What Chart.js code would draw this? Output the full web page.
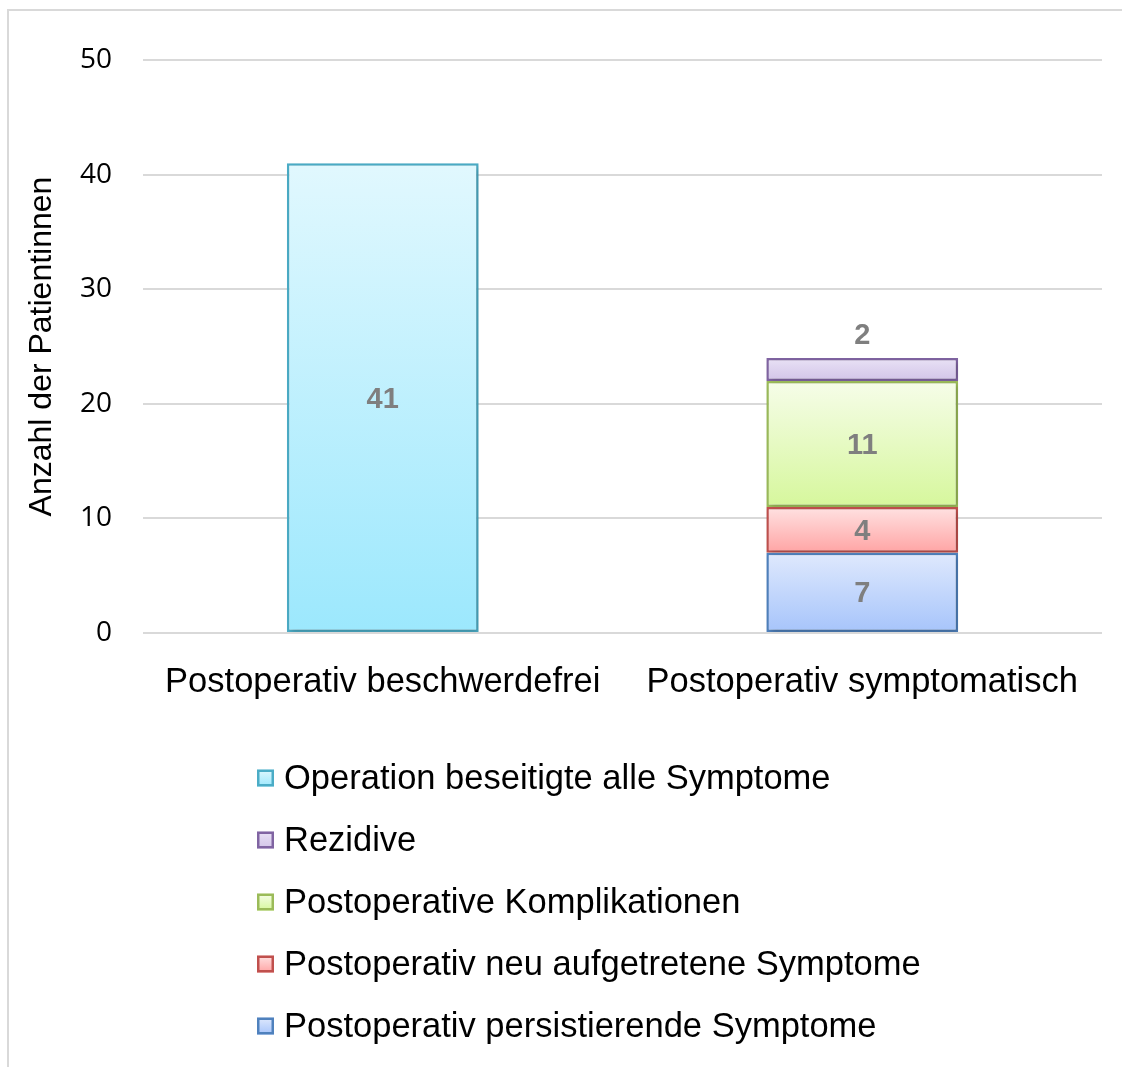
<!DOCTYPE html>
<html>
<head>
<meta charset="utf-8">
<script src="https://cdn.jsdelivr.net/npm/chart.js@4/dist/chart.umd.min.js"></script>
<style>
  html, body { margin: 0; padding: 0; background: #fff; }
  #wrap { width: 1122px; height: 1067px; position: relative; }
</style>
</head>
<body>
<div id="wrap"><canvas id="chart"></canvas></div>
<script>
// Daten
const categories = ['Postoperativ beschwerdefrei', 'Postoperativ symptomatisch'];
const beseitigt = [41, null];
const persistierend = [null, 7];
const neuAufgetreten = [null, 4];
const komplikationen = [null, 11];
const rezidive = [null, 2];
const yTicks = [0, 10, 20, 30, 40, 50];

// Farben: [oben, unten, Rand]
const colBeseitigt = ['#e1f8fe', '#9ce8fd', '#4bacc6'];
const colPersist = ['#dfe9fd', '#a6c4fb', '#4f81bd'];
const colNeu = ['#ffe2e2', '#ffa4a4', '#c0504d'];
const colKompl = ['#f6fde9', '#d6f79c', '#9bbb59'];
const colRezidive = ['#e9e2f5', '#d2c4e8', '#8064a2'];

// Gradient pro Segment, von oben hell nach unten dunkler
function segmentGradient(cols) {
    return function (context) {
        const chart = context.chart;
        if (context.type !== 'data' || !chart.scales.y) return cols[1];
        const i = context.dataIndex;
        const di = context.datasetIndex;
        let base = 0;
        for (let d = 0; d < di; d++) {
            base += chart.data.datasets[d].data[i] || 0;
        }
        const value = context.raw || 0;
        const y = chart.scales.y;
        const top = y.getPixelForValue(base + value);
        const bottom = y.getPixelForValue(base);
        if (!isFinite(top) || !isFinite(bottom) || top === bottom) return cols[1];
        const g = chart.ctx.createLinearGradient(0, top, 0, bottom);
        g.addColorStop(0, cols[0]);
        g.addColorStop(1, cols[1]);
        return g;
    };
}

function makeDataset(label, data, cols) {
    return {
        label: label,
        data: data,
        backgroundColor: segmentGradient(cols),
        borderColor: cols[2],
        borderWidth: 2.5,
        borderSkipped: false,
        legendCols: cols,
    };
}

// Rahmen um das Diagramm
const framePlugin = {
    id: 'frame',
    beforeDraw(chart) {
        const ctx = chart.ctx;
        ctx.save();
        ctx.strokeStyle = '#d9d9d9';
        ctx.lineWidth = 2;
        ctx.beginPath();
        ctx.moveTo(8, chart.height);
        ctx.lineTo(8, 10);
        ctx.lineTo(chart.width, 10);
        ctx.stroke();
        ctx.restore();
    }
};

// leichter Schatten unter den Balken
const shadowPlugin = {
    id: 'barShadow',
    beforeDatasetsDraw(chart) {
        const ctx = chart.ctx;
        ctx.save();
        ctx.shadowColor = 'rgba(0,0,0,0.22)';
        ctx.shadowBlur = 5;
        ctx.shadowOffsetX = 2;
        ctx.shadowOffsetY = 2;
    },
    afterDatasetsDraw(chart) {
        chart.ctx.restore();
    }
};

// Werte in den Balken
const valueLabels = {
    id: 'valueLabels',
    afterDatasetsDraw(chart) {
        const ctx = chart.ctx;
        ctx.save();
        ctx.font = 'bold 29px "Liberation Sans", Arial, sans-serif';
        ctx.fillStyle = '#7f7f7f';
        ctx.textAlign = 'center';
        ctx.textBaseline = 'middle';
        chart.data.datasets.forEach((ds, di) => {
            const meta = chart.getDatasetMeta(di);
            meta.data.forEach((bar, i) => {
                const v = ds.data[i];
                if (v === null || v === undefined) return;
                const h = Math.abs(bar.base - bar.y);
                let y = (bar.y + bar.base) / 2;
                if (h < 30) y = bar.y - 24; // kleines Segment: Wert darüber
                ctx.fillText(String(v), bar.x, y + 2);
            });
        });
        ctx.restore();
    }
};

// Legende untereinander, unter dem Diagramm
const legendOrder = [0, 4, 3, 2, 1];
const stackedLegend = {
    id: 'stackedLegend',
    afterDraw(chart) {
        const ctx = chart.ctx;
        const x0 = 257;
        const y0 = chart.chartArea.bottom + 145;
        const step = 62;
        const box = 17;
        ctx.save();
        ctx.font = '34.5px "Liberation Sans", Arial, sans-serif';
        ctx.textBaseline = 'middle';
        ctx.textAlign = 'left';
        legendOrder.forEach((di, k) => {
            const ds = chart.data.datasets[di];
            const cols = ds.legendCols;
            const cy = y0 + k * step;
            const top = cy - box / 2;
            const g = ctx.createLinearGradient(0, top, 0, top + box);
            g.addColorStop(0, cols[0]);
            g.addColorStop(1, cols[1]);
            ctx.fillStyle = g;
            ctx.fillRect(x0, top, box, box);
            ctx.strokeStyle = cols[2];
            ctx.lineWidth = 2.5;
            ctx.strokeRect(x0 + 1.25, top + 1.25, box - 2.5, box - 2.5);
            ctx.fillStyle = '#000000';
            ctx.fillText(ds.label, x0 + 27, cy + 1);
        });
        ctx.restore();
    }
};

(async function () {
    new Chart(
        document.querySelector('#chart'),
        {
            type: 'bar',
            data: {
                labels: categories,
                datasets: [
                    makeDataset('Operation beseitigte alle Symptome', beseitigt, colBeseitigt),
                    makeDataset('Postoperativ persistierende Symptome', persistierend, colPersist),
                    makeDataset('Postoperativ neu aufgetretene Symptome', neuAufgetreten, colNeu),
                    makeDataset('Postoperative Komplikationen', komplikationen, colKompl),
                    makeDataset('Rezidive', rezidive, colRezidive),
                ]
            },
            options: {
                responsive: true,
                maintainAspectRatio: false,
                animation: false,
                categoryPercentage: 1,
                barPercentage: 0.4,
                layout: {
                    padding: { left: 10, top: 60, right: 20, bottom: 354 }
                },
                scales: {
                    x: {
                        stacked: true,
                        grid: { display: false },
                        border: { display: false },
                        ticks: {
                            color: '#000000',
                            padding: 21,
                            maxRotation: 0,
                            minRotation: 0,
                            autoSkip: false,
                            font: { family: '"Liberation Sans", Arial, sans-serif', size: 34.5 }
                        },
                        afterFit: function (scale) {
                            scale.height = 80;
                        }
                    },
                    y: {
                        stacked: true,
                        min: yTicks[0],
                        max: yTicks[yTicks.length - 1],
                        afterBuildTicks: function (scale) {
                            scale.ticks = yTicks.map(v => ({ value: v }));
                        },
                        grid: {
                            color: '#d9d9d9',
                            lineWidth: 2,
                            drawTicks: false
                        },
                        border: { display: false },
                        ticks: {
                            color: '#000000',
                            padding: 31,
                            font: { family: '"Open Sans", sans-serif', size: 28 }
                        },
                        title: {
                            display: true,
                            text: 'Anzahl der Patientinnen',
                            color: '#000000',
                            padding: { top: 13, bottom: 0 },
                            font: { family: '"Liberation Sans", Arial, sans-serif', size: 32 }
                        },
                        afterFit: function (scale) {
                            scale.width = 133;
                        }
                    }
                },
                plugins: {
                    legend: { display: false },
                    tooltip: { enabled: false }
                }
            },
            plugins: [framePlugin, shadowPlugin, valueLabels, stackedLegend]
        }
    );
})();
</script>
</body>
</html>
